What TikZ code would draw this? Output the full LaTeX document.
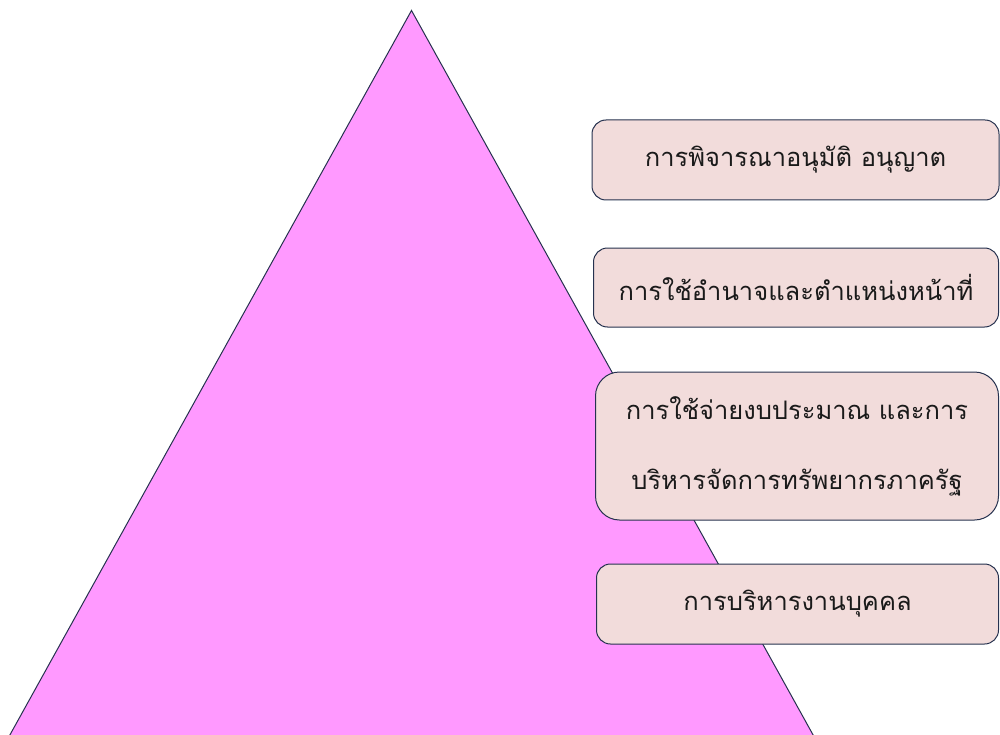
\documentclass[tikz,border=0pt]{standalone}
\usepackage{fontspec}
\newfontfamily\thaifont[Script=Thai]{Loma}
\definecolor{pyramidpink}{HTML}{FF99FF}
\definecolor{boxpink}{HTML}{F2DCDB}
\definecolor{edgeblue}{HTML}{26324F}
\definecolor{inkgrey}{HTML}{1A1A1A}

\begin{document}
\begin{tikzpicture}[x=1pt,y=-1pt,
        topic/.style={draw=edgeblue, fill=boxpink, rounded corners=14pt, line width=1pt,
            align=center, inner sep=0pt, text=inkgrey,
            font=\thaifont\fontsize{25.5}{70}\selectfont}]
        \useasboundingbox (0,0) rectangle (1000,735);

        % pyramid, cut by the lower edge of the page
        \begin{scope}
            \clip (0,0) rectangle (1000,735);
            \draw [fill=pyramidpink, draw=edgeblue, line width=1pt]
                (411.5,10.5) -- (-50,843) -- (873,843) -- cycle;
        \end{scope}

        \node (approve) at (795.5,160) [topic, minimum width=407pt, minimum height=80pt] {การพิจารณาอนุมัติ อนุญาต};
        \node (power) at (796,287.5) [topic, minimum width=405pt, minimum height=79pt] {การใช้อำนาจและตำแหน่งหน้าที่};
        \node (budget) at (797,446) [topic, rounded corners=24pt, minimum width=403pt, minimum height=148pt] {การใช้จ่ายงบประมาณ และการ\\บริหารจัดการทรัพยากรภาครัฐ};
        \node (personnel) at (797.5,604) [topic, minimum width=402pt, minimum height=80pt] {การบริหารงานบุคคล};
    \end{tikzpicture}
\end{document}
